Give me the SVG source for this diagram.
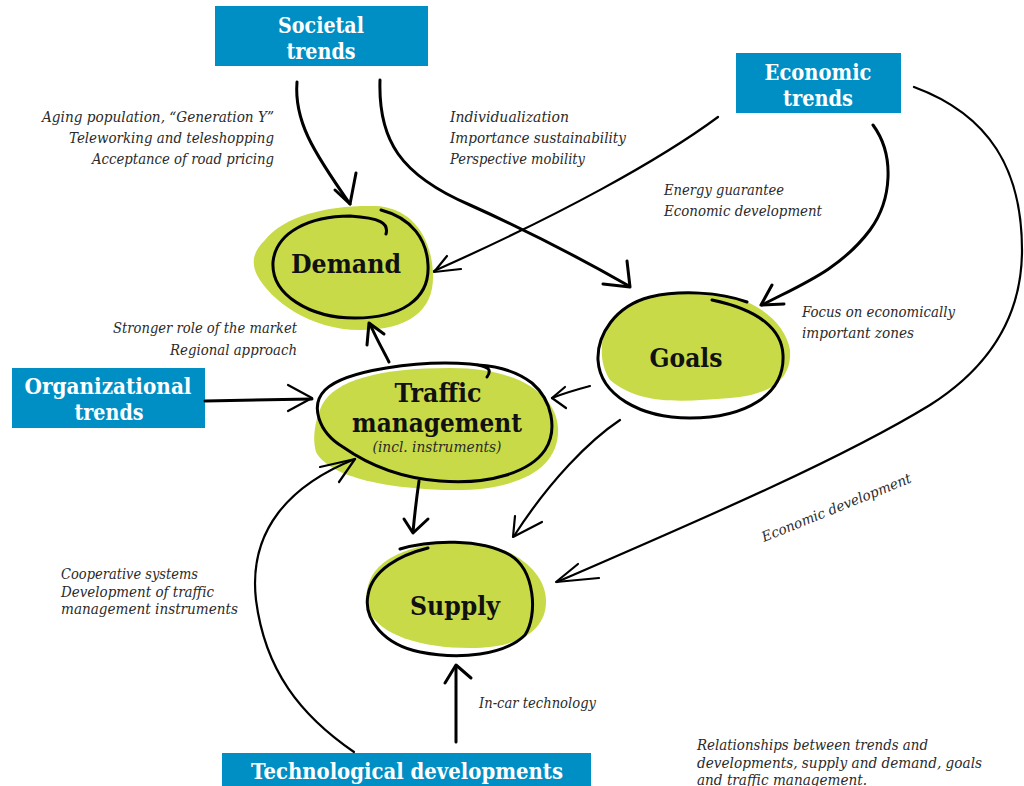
<svg xmlns="http://www.w3.org/2000/svg" width="1024" height="786" viewBox="0 0 1024 786">
<style>
.box{fill:#008fc5}
.bl{font-family:"DejaVu Serif","Liberation Serif",serif;font-weight:bold;fill:#fff;font-size:23px;text-anchor:middle}
.blob{fill:#c8da47}
.ring{fill:none;stroke:#000;stroke-width:3;stroke-linecap:round;stroke-linejoin:round}
.nl{font-family:"DejaVu Serif","Liberation Serif",serif;font-weight:bold;fill:#111;font-size:26px;text-anchor:middle}
.it{font-family:"DejaVu Serif","Liberation Serif",serif;font-style:italic;fill:#2a2a2a;font-size:14px}
.e{text-anchor:end}
.m{text-anchor:middle}
.c{fill:none;stroke:#000;stroke-width:3;stroke-linecap:round;stroke-linejoin:round}
.t{stroke-width:2.2}
</style>
<rect width="1024" height="786" fill="#fff"/>

<g id="societal">
<rect class="box" x="215" y="6" width="213" height="60"/>
<text class="bl" x="321" y="33" textLength="86" lengthAdjust="spacingAndGlyphs">Societal</text>
<text class="bl" x="321" y="59" textLength="69" lengthAdjust="spacingAndGlyphs">trends</text>
</g>
<g id="economic">
<rect class="box" x="736" y="53" width="165" height="60"/>
<text class="bl" x="818" y="80" textLength="107" lengthAdjust="spacingAndGlyphs">Economic</text>
<text class="bl" x="818" y="106" textLength="70" lengthAdjust="spacingAndGlyphs">trends</text>
</g>
<g id="organizational">
<rect class="box" x="12" y="368" width="193" height="60"/>
<text class="bl" x="108" y="394" textLength="167" lengthAdjust="spacingAndGlyphs">Organizational</text>
<text class="bl" x="109" y="420" textLength="69" lengthAdjust="spacingAndGlyphs">trends</text>
</g>
<g id="technological">
<rect class="box" x="222" y="753" width="369" height="40"/>
<text class="bl" x="407" y="779" textLength="312" lengthAdjust="spacingAndGlyphs">Technological developments</text>
</g>

<g id="demand">
<path class="blob" d="M265,240 C285,215 330,205 375,206 C410,207 432,235 433,275 C434,310 410,330 360,330 C310,330 270,300 257,275 C250,260 255,250 265,240 Z"/>
<path class="ring" d="M386,234 C389,223 380,218 350,216 C310,216 276,232 273,262 C271,295 310,318 355,318 C400,318 430,300 428,265 C427,240 412,218 381,210"/>
<text class="nl" x="346" y="273" textLength="110" lengthAdjust="spacingAndGlyphs">Demand</text>
</g>
<g id="goals">
<path class="blob" d="M605,330 C620,300 660,290 700,292 C750,293 785,320 790,350 C792,380 770,395 730,398 C680,402 640,405 610,380 C600,365 600,345 605,330 Z"/>
<path class="ring" d="M747,302 C720,292 680,290 650,297 C615,306 597,335 598,360 C600,395 640,418 690,418 C745,418 785,395 783,355 C782,330 760,310 712,300"/>
<text class="nl" x="686" y="367" textLength="73" lengthAdjust="spacingAndGlyphs">Goals</text>
</g>
<g id="traffic">
<path class="blob" d="M322,405 C335,380 380,368 450,368 C520,368 556,395 558,428 C560,468 520,491 450,490 C390,489 330,478 316,452 C312,438 315,420 322,405 Z"/>
<path class="ring" d="M487,377 C492,370 490,366 470,364 C420,360 345,370 325,390 C310,405 318,432 343,447 C370,466 400,478 440,481 C490,485 530,472 545,450 C558,430 552,400 532,383 C515,370 495,366 478,365"/>
<text class="nl" x="438" y="402" textLength="87" lengthAdjust="spacingAndGlyphs">Traffic</text>
<text class="nl" x="437" y="432" textLength="170" lengthAdjust="spacingAndGlyphs">management</text>
<text class="it m" x="437" y="452" textLength="129" lengthAdjust="spacingAndGlyphs">(incl. instruments)</text>
</g>
<g id="supply">
<path class="blob" d="M370,580 C380,555 420,542 460,542 C510,542 545,570 546,600 C547,630 520,648 470,648 C420,648 380,635 368,610 C365,600 366,590 370,580 Z"/>
<path class="ring" d="M400,549 C430,540 480,538 510,555 C535,570 538,615 525,635 C505,655 460,660 420,652 C385,645 363,620 368,595 C372,570 400,555 428,548"/>
<text class="nl" x="455" y="615" textLength="90" lengthAdjust="spacingAndGlyphs">Supply</text>
</g>

<g id="connectors">
<path class="c" d="M297,82 C294,120 312,150 350,204"/>
<polyline class="c" points="335,190 350,204 356,173"/>
<path class="c" d="M380,80 C378,140 400,175 470,205 C530,232 580,258 629,286"/>
<polyline class="c" points="603,284 630,287 627,261"/>
<path class="c t" d="M718,117 C660,160 560,215 434,271"/>
<polyline class="c t" points="461,269 434,272 447,256"/>
<path class="c" d="M873,125 C895,155 892,200 870,230 C840,270 800,285 762,305"/>
<polyline class="c" points="772,285 761,305 784,304"/>
<path class="c t" d="M914,87 C990,115 1022,170 1022,250 C1022,320 985,370 930,405 C840,460 700,520 557,582"/>
<polyline class="c t" points="599,578 556,582 578,564"/>
<path class="c t" d="M590,386 C575,390 562,394 552,398"/>
<polyline class="c t" points="565,387 552,398 566,408"/>
<path class="c t" d="M620,420 C590,440 550,480 514,536"/>
<polyline class="c t" points="515,516 513,537 542,522"/>
<path class="c" d="M389,362 C383,350 376,338 370,324"/>
<polyline class="c" points="367,345 369,323 384,334"/>
<path class="c" d="M205,401 L312,399"/>
<polyline class="c t" points="288,385 312,398 288,411"/>
<path class="c" d="M419,481 C417,495 415,510 413,532"/>
<polyline class="c" points="404,519 413,533 428,519"/>
<path class="c t" d="M354,752 C300,715 265,670 256,600 C248,530 290,485 355,459"/>
<polyline class="c t" points="320,467 355,459 339,482"/>
<path class="c" d="M456,742 L456,666"/>
<polyline class="c" points="445,683 456,665 471,678"/>
</g>

<g id="labels">
<text class="it e" x="274" y="122" textLength="232" lengthAdjust="spacingAndGlyphs">Aging population, “Generation Y”</text>
<text class="it e" x="274" y="143" textLength="205" lengthAdjust="spacingAndGlyphs">Teleworking and teleshopping</text>
<text class="it e" x="274" y="164" textLength="182" lengthAdjust="spacingAndGlyphs">Acceptance of road pricing</text>
<text class="it" x="450" y="122" textLength="119" lengthAdjust="spacingAndGlyphs">Individualization</text>
<text class="it" x="450" y="143" textLength="176" lengthAdjust="spacingAndGlyphs">Importance sustainability</text>
<text class="it" x="450" y="164" textLength="135" lengthAdjust="spacingAndGlyphs">Perspective mobility</text>
<text class="it" x="664" y="195" textLength="120" lengthAdjust="spacingAndGlyphs">Energy guarantee</text>
<text class="it" x="664" y="216" textLength="158" lengthAdjust="spacingAndGlyphs">Economic development</text>
<text class="it e" x="297" y="333" textLength="184" lengthAdjust="spacingAndGlyphs">Stronger role of the market</text>
<text class="it e" x="297" y="355" textLength="127" lengthAdjust="spacingAndGlyphs">Regional approach</text>
<text class="it" x="802" y="317" textLength="153" lengthAdjust="spacingAndGlyphs">Focus on economically</text>
<text class="it" x="802" y="338" textLength="112" lengthAdjust="spacingAndGlyphs">important zones</text>
<text class="it" x="0" y="0" font-size="13" transform="translate(764,542) rotate(-22)" textLength="160" lengthAdjust="spacingAndGlyphs">Economic development</text>
<text class="it" x="61" y="579" textLength="137" lengthAdjust="spacingAndGlyphs">Cooperative systems</text>
<text class="it" x="61" y="597" textLength="153" lengthAdjust="spacingAndGlyphs">Development of traffic</text>
<text class="it" x="61" y="614" textLength="177" lengthAdjust="spacingAndGlyphs">management instruments</text>
<text class="it" x="479" y="708" textLength="117" lengthAdjust="spacingAndGlyphs">In-car technology</text>
<text class="it" x="697" y="750" textLength="231" lengthAdjust="spacingAndGlyphs">Relationships between trends and</text>
<text class="it" x="697" y="768" textLength="285" lengthAdjust="spacingAndGlyphs">developments, supply and demand, goals</text>
<text class="it" x="697" y="785" textLength="170" lengthAdjust="spacingAndGlyphs">and traffic management.</text>
</g>
</svg>
